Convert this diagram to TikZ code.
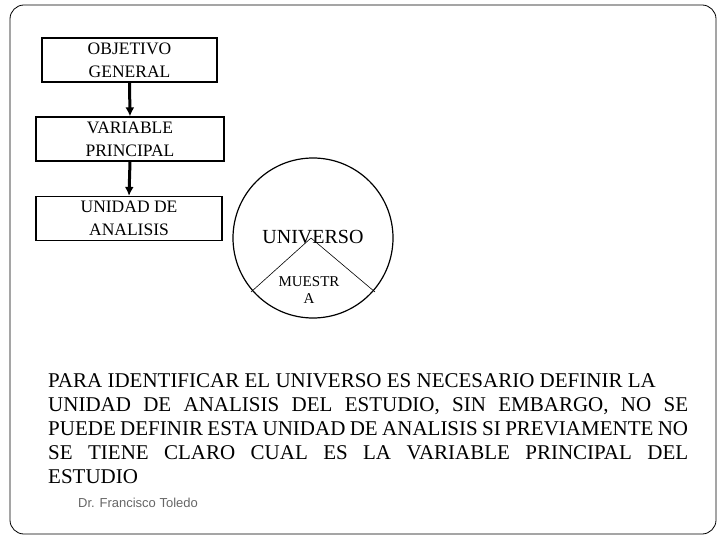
\documentclass[tikz,border=0pt]{standalone}
\usepackage{fontspec}
\setmainfont{Liberation Serif}
\newfontfamily\drsans{Liberation Sans}
\begin{document}
\begin{tikzpicture}[x=1pt,y=-1pt,
  bx/.style={draw,line width=1.2pt,minimum height=44pt,align=center,font=\fontsize{17.5}{23}\selectfont,inner sep=0pt},
  arr/.style={-{Latex[length=9pt,width=9pt]},line width=3pt}]
\usetikzlibrary{arrows.meta}
\useasboundingbox (0,0) rectangle (720,540);
\draw[line width=0.8pt,rounded corners=14pt] (10,5) rectangle (716,534);
\node[bx,minimum width=175pt] (b1) at (129.5,60) {OBJETIVO\\GENERAL};
\node[bx,minimum width=188pt] (b2) at (130,139) {VARIABLE\\PRINCIPAL};
\node[bx,minimum width=186pt] (b3) at (129,218.5) {UNIDAD DE\\ANALISIS};
\draw[arr] (b1.south) -- (b2.north);
\draw[arr] (b2.south) -- (b3.north);
\node[circle,draw,line width=1.2pt,minimum size=160pt] (c) at (313,238) {};
\coordinate (ctr) at (311,238);
\draw[line width=0.6pt] (ctr) -- (251,292);
\draw[line width=0.6pt] (ctr) -- (375,292);
\node[font=\fontsize{20}{22}\selectfont] (u) at (313,237) {UNIVERSO};
\node[align=center,font=\fontsize{15}{17}\selectfont] (m) at (309,290) {MUESTR\\A};
\node[anchor=north west,text width=640pt,align=justify,inner sep=0pt,font=\fontsize{21}{24}\selectfont] (p) at (48,373)
{\hyphenpenalty=10000\exhyphenpenalty=10000\emergencystretch=50pt PARA IDENTIFICAR EL UNIVERSO ES NECESARIO DEFINIR LA\\ UNIDAD DE ANALISIS DEL ESTUDIO, SIN EMBARGO, NO SE\linebreak PUEDE DEFINIR ESTA UNIDAD DE ANALISIS SI PREVIAMENTE NO\linebreak SE TIENE CLARO CUAL ES LA VARIABLE PRINCIPAL DEL\linebreak ESTUDIO};
\node[font=\drsans\fontsize{13}{15}\selectfont,text=black!60] (dr) at (138,503) {Dr. Francisco Toledo};
\end{tikzpicture}
\end{document}
